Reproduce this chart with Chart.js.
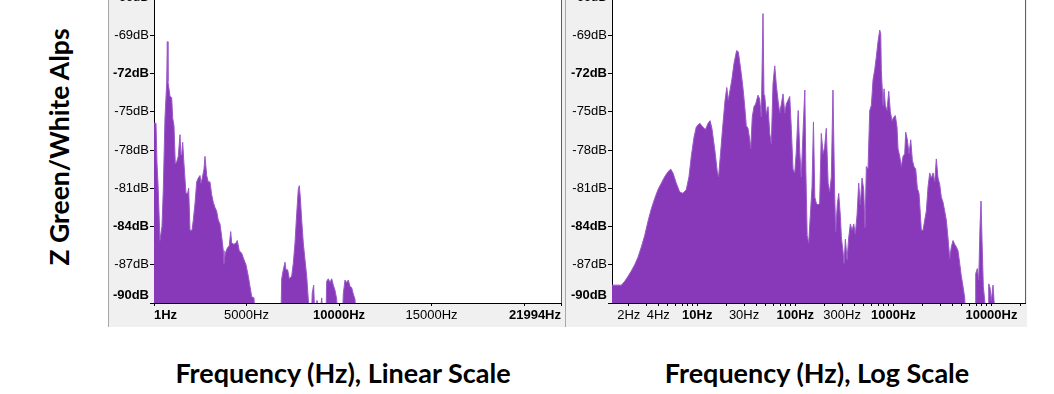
<!DOCTYPE html>
<html>
<head>
<meta charset="utf-8">
<script src="https://cdn.jsdelivr.net/npm/chart.js@4.4.1/dist/chart.umd.min.js"></script>
<style>
  body { margin: 0; width: 1054px; height: 394px; overflow: hidden; background: #fff; position: relative; }
  .panel { position: absolute; top: 0; height: 327px; background: #f0f0f0; border-left: 1px solid #a8a8a8; }
  canvas { position: absolute; }
  .title { position: absolute; font-family: Lato, "Open Sans", sans-serif; font-weight: bold; color: #000; white-space: nowrap; }
</style>
</head>
<body>
<div class="panel" style="left:108px;width:456px"></div>
<div class="panel" style="left:565px;width:461px"></div>
<canvas id="linChart" width="457" height="347" style="left:108px;top:-20px"></canvas>
<canvas id="logChart" width="461" height="347" style="left:566px;top:-20px"></canvas>
<div class="title" id="ylab" style="font-size:26.5px;left:59px;top:147px;transform:translate(-50%,-50%) rotate(-90deg)">Z Green/White Alps</div>
<div class="title" style="font-size:27px;left:343px;top:372px;transform:translate(-50%,-50%)">Frequency (Hz), Linear Scale</div>
<div class="title" style="font-size:27px;left:817px;top:372px;transform:translate(-50%,-50%)">Frequency (Hz), Log Scale</div>
<script>
// linear-scale spectrum (Hz, dB); -91 = below the -90 dB floor
const linFreq = [
  1, 54, 108, 162, 216, 324, 432, 503, 594, 686,
  721, 757, 773, 865, 957, 1011, 1081, 1151, 1232, 1313,
  1405, 1459, 1497, 1551, 1621, 1729, 1821, 1875, 1945, 2054,
  2124, 2216, 2308, 2394, 2486, 2540, 2610, 2702, 2756, 2848,
  2934, 3026, 3118, 3205, 3296, 3388, 3475, 3567, 3659, 3745,
  3783, 3853, 3961, 4069, 4145, 4199, 4323, 4431, 4501, 4610,
  4739, 4864, 4972, 5096, 5188, 5280, 5404, 5458, 6863, 6901,
  6987, 7079, 7133, 7225, 7312, 7442, 7528, 7620, 7712, 7798,
  7852, 7906, 7982, 8068, 8160, 8252, 8338, 8400, 8508, 8554,
  8630, 8684, 8809, 8970, 9063, 9133, 9295, 9333, 9419, 9511,
  9603, 9690, 9781, 9873, 9917, 10187, 10230, 10322, 10414, 10500,
  10592, 10684, 10770, 10862, 10916
];
const linLevel = [
  -75.9, -75.9, -75.9, -79.0, -80.6, -85.1, -84.0, -81.1, -75.5, -72.8,
  -69.5, -72.6, -72.8, -73.8, -73.9, -75.5, -76.1, -79.1, -78.9, -78.5,
  -76.8, -78.4, -78.4, -77.4, -79.1, -81.4, -81.4, -81.0, -84.3, -84.3,
  -83.5, -82.2, -80.5, -80.2, -80.0, -80.6, -80.2, -79.5, -78.5, -80.0,
  -80.5, -80.5, -81.5, -82.1, -82.5, -82.8, -83.5, -83.8, -84.8, -85.9,
  -86.9, -86.1, -85.7, -85.5, -84.4, -85.3, -85.4, -85.3, -85.1, -85.9,
  -86.1, -86.6, -87.0, -87.9, -88.7, -89.5, -89.6, -91, -91, -88.1,
  -87.4, -86.8, -87.4, -87.4, -88.1, -87.9, -86.9, -85.3, -83.0, -81.1,
  -80.8, -81.7, -83.5, -85.3, -86.6, -87.9, -89.7, -91, -91, -89.2,
  -88.6, -91, -89.8, -91, -89.6, -91, -91, -88.3, -88.1, -88.4,
  -88.1, -88.6, -89.0, -89.7, -91, -91, -89.3, -88.2, -88.4, -88.2,
  -88.7, -88.8, -89.3, -89.7, -91
];

// log-scale spectrum
const logFreq = [
  1.35, 1.68, 1.82, 1.97, 2.12, 2.30, 2.49, 2.69, 2.91, 3.14,
  3.40, 3.68, 3.98, 4.30, 4.65, 5.03, 5.36, 5.65, 6.11, 6.62,
  7.15, 7.73, 8.23, 8.69, 9.26, 9.77, 10.6, 11.4, 12.1, 12.9,
  13.5, 14.1, 15.1, 16.0, 16.5, 17.3, 18.3, 19.2, 20.0, 20.7,
  22.5, 23.7, 25.2, 26.2, 27.1, 28.1, 29.3, 30.5, 31.6, 32.9,
  34.3, 35.1, 36.4, 37.9, 39.4, 41.6, 43.3, 45.0, 46.8, 47.9,
  48.7, 50.6, 52.7, 54.8, 56.9, 59.2, 61.7, 64.0, 66.6, 69.3,
  72.0, 74.9, 78.0, 80.9, 84.2, 87.7, 91.0, 94.7, 98.6, 102,
  107, 111, 115, 121, 125, 128, 132, 137, 142, 148,
  153, 158, 164, 170, 177, 184, 192, 199, 207, 216,
  224, 233, 242, 252, 258, 268, 277, 288, 295, 306,
  314, 324, 337, 350, 364, 379, 394, 409, 426, 443,
  460, 479, 498, 514, 530, 551, 574, 596, 620, 645,
  670, 697, 726, 743, 753, 784, 803, 828, 861, 897,
  931, 969, 1015, 1047, 1089, 1115, 1161, 1205, 1254, 1305,
  1336, 1388, 1444, 1503, 1561, 1624, 1690, 1755, 1826, 1883,
  1928, 2006, 2087, 2168, 2256, 2348, 2438, 2537, 2640, 2741,
  2852, 2969, 3083, 3208, 3338, 3466, 3607, 3754, 3898, 4057,
  4222, 4384, 4562, 4748, 4930, 5130, 5340, 5442, 6801, 6913,
  7178, 7419, 7648, 7830, 8016, 8264, 8540, 8702, 9231, 9383,
  9674, 9973, 10380, 10627, 10880
];
const logLevel = [
  -88.6, -88.6, -88.3, -87.9, -87.5, -87.0, -86.4, -85.6, -84.7, -83.6,
  -82.6, -81.8, -81.1, -80.6, -80.1, -79.7, -79.5, -79.8, -80.6, -81.3,
  -81.4, -81.1, -80.1, -78.5, -77.0, -76.2, -75.9, -76.2, -76.4, -75.9,
  -75.7, -76.3, -78.0, -79.7, -80.1, -78.2, -75.9, -74.1, -73.1, -74.1,
  -72.5, -71.2, -70.2, -70.3, -71.1, -72.0, -73.2, -74.6, -76.1, -76.3,
  -77.2, -77.9, -75.4, -74.6, -74.4, -73.7, -74.0, -75.4, -67.3, -73.7,
  -73.7, -75.2, -74.6, -76.7, -77.5, -72.8, -71.4, -72.9, -74.1, -75.1,
  -74.4, -73.6, -75.1, -74.4, -74.1, -73.8, -76.3, -79.5, -79.8, -78.3,
  -74.9, -78.2, -80.1, -75.8, -73.3, -79.5, -84.7, -85.3, -83.2, -80.9,
  -75.8, -81.7, -82.2, -82.3, -82.2, -76.7, -78.3, -77.8, -76.3, -80.6,
  -81.3, -80.1, -73.3, -81.5, -84.4, -82.3, -81.4, -83.2, -84.9, -85.9,
  -86.9, -85.0, -86.6, -84.9, -83.8, -84.3, -83.8, -84.6, -83.1, -80.6,
  -82.3, -80.2, -81.1, -84.1, -79.3, -79.5, -74.9, -74.5, -72.5, -71.7,
  -70.7, -69.5, -68.6, -68.9, -71.7, -74.5, -73.2, -74.5, -74.9, -73.4,
  -75.0, -75.7, -75.4, -75.3, -76.2, -77.9, -78.5, -79.3, -78.5, -78.3,
  -76.6, -77.2, -78.3, -77.2, -78.8, -79.3, -79.5, -81.0, -81.4, -83.0,
  -84.3, -84.3, -83.5, -82.8, -80.9, -79.8, -80.2, -79.8, -80.5, -78.7,
  -80.2, -80.7, -81.7, -82.1, -82.8, -83.5, -84.9, -86.5, -85.6, -85.1,
  -85.4, -85.6, -85.9, -86.9, -87.9, -88.7, -89.6, -91, -91, -87.7,
  -87.3, -88.2, -84.0, -82.0, -85.1, -88.7, -89.8, -91, -91, -88.5,
  -88.8, -89.8, -88.6, -89.8, -91
];

// axis ticks
const linTicks = [1, 5000, 10000, 15000, 20000, 21994];
const linTickLabels = ['1Hz', '5000Hz', '10000Hz', '15000Hz', '', '21994Hz'];
const linBold = [1, 10000, 21994];
const logTicks = [2, 3, 4, 5, 6, 7, 8, 9, 10, 20, 30, 40, 50, 60, 70, 80, 90,
  100, 200, 300, 400, 500, 600, 700, 800, 900, 1000, 2000, 3000, 4000, 5000,
  6000, 7000, 8000, 9000, 10000, 20000];
const logLabelled = [2, 4, 10, 30, 100, 300, 1000, 10000];
const logBold = [10, 100, 1000, 10000];
const dbTicks = [-90, -87, -84, -81, -78, -75, -72, -69, -66];
const dbBold = [-90, -84, -72];

const PURPLE = '#8739ba';
const tickFont = bold => ({ family: '"Liberation Sans", Arial, sans-serif', size: 13, weight: bold ? 'bold' : 'normal' });

const plotFrame = {
  id: 'plotFrame',
  beforeDraw(chart) {
    const a = chart.chartArea, c = chart.ctx;
    c.save();
    c.fillStyle = '#fff';
    c.fillRect(a.left, a.top, a.right - a.left, a.bottom - a.top);
    c.restore();
  },
  afterDraw(chart) {
    const a = chart.chartArea, c = chart.ctx;
    c.save();
    c.strokeStyle = '#606060';
    c.beginPath();
    c.moveTo(Math.round(a.right) + 0.5, a.top);
    c.lineTo(Math.round(a.right) + 0.5, a.bottom);
    c.stroke();
    c.restore();
  }
};

function yScale() {
  return {
    min: -90, max: -66,
    afterBuildTicks: s => { s.ticks = dbTicks.map(v => ({ value: v })); },
    afterFit: s => { s.width = 46; },
    grid: { drawOnChartArea: false, tickLength: 4, color: '#000' },
    border: { color: '#000' },
    ticks: {
      padding: 1, color: '#000',
      font: ctx => tickFont(ctx.tick && dbBold.includes(ctx.tick.value)),
      callback: v => v === -90 ? ['-90dB', ''] : v + 'dB'
    }
  };
}

function spectrum(freq, level) {
  return {
    data: freq.map((f, i) => ({ x: f, y: level[i] })),
    fill: 'start',
    backgroundColor: PURPLE,
    borderColor: '#9a58c8',
    borderWidth: 1,
    pointRadius: 0,
    tension: 0
  };
}

new Chart(document.getElementById('linChart'), {
  type: 'line',
  data: { datasets: [spectrum(linFreq, linLevel)] },
  options: {
    responsive: false, animation: false,
    layout: { padding: { left: 0, right: 4, top: 17, bottom: 0 } },
    plugins: { legend: { display: false }, tooltip: { enabled: false } },
    scales: {
      x: {
        type: 'linear', min: 1, max: 21994,
        afterBuildTicks: s => { s.ticks = linTicks.map(v => ({ value: v })); },
        afterFit: s => { s.height = 24; },
        grid: { drawOnChartArea: false, tickLength: 3, color: '#000' },
        border: { color: '#000' },
        ticks: {
          align: 'inner', autoSkip: false, maxRotation: 0, padding: 2, color: '#000',
          font: ctx => tickFont(ctx.tick && linBold.includes(ctx.tick.value)),
          callback: v => linTickLabels[linTicks.indexOf(v)]
        }
      },
      y: yScale()
    }
  },
  plugins: [plotFrame]
});

new Chart(document.getElementById('logChart'), {
  type: 'line',
  data: { datasets: [spectrum(logFreq, logLevel)] },
  options: {
    responsive: false, animation: false,
    layout: { padding: { left: 0, right: 2, top: 17, bottom: 0 } },
    plugins: { legend: { display: false }, tooltip: { enabled: false } },
    scales: {
      x: {
        type: 'logarithmic', min: 1.35, max: 21994,
        afterBuildTicks: s => { s.ticks = logTicks.map(v => ({ value: v })); },
        afterFit: s => { s.height = 24; },
        grid: { drawOnChartArea: false, tickLength: 3, color: '#000' },
        border: { color: '#000' },
        ticks: {
          autoSkip: false, maxRotation: 0, padding: 2, color: '#000',
          font: ctx => tickFont(ctx.tick && logBold.includes(ctx.tick.value)),
          callback: v => logLabelled.includes(v) ? v + 'Hz' : ''
        }
      },
      y: yScale()
    }
  },
  plugins: [plotFrame]
});
</script>
</body>
</html>
